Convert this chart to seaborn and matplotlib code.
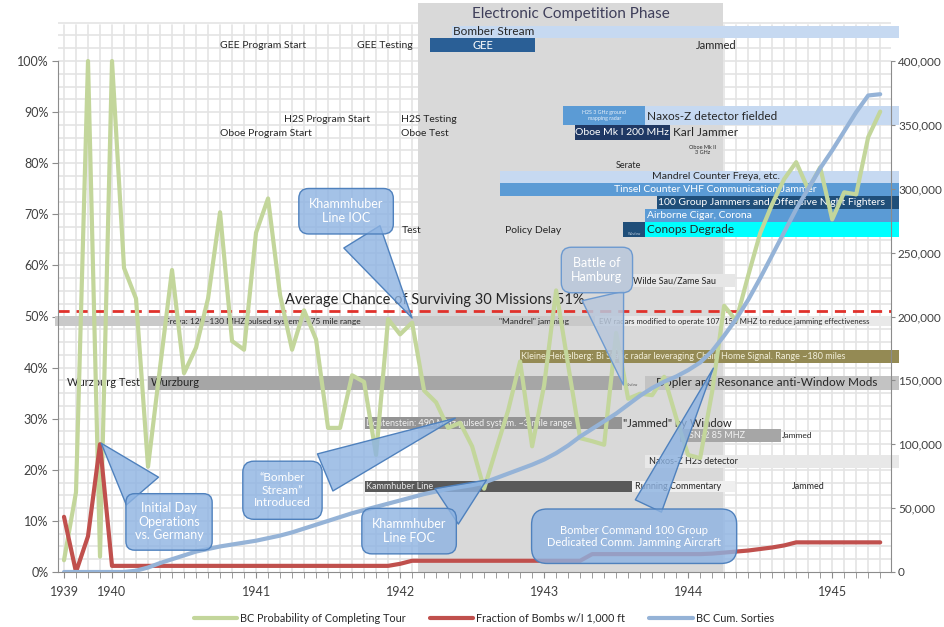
import numpy as np
import pandas as pd
import matplotlib
matplotlib.use("Agg")
import matplotlib.pyplot as plt
import seaborn as sns
from matplotlib.patches import Rectangle
from matplotlib.lines import Line2D
from matplotlib.ticker import FuncFormatter

# ---------------- data (monthly, Sep 1939 = month 0 ... May 1945 = month 68) ----------------
months = list(range(69))
tour_prob = [2.3, 15.6, 100, 3.0, 100, 59.5, 53.5, 20.6, 40.0, 59.1, 38.9, 43.9, 53.5, 70.4,
             45.2, 43.5, 66.4, 73.1, 54.2, 43.5, 51.2, 45.5, 28.2, 28.2, 38.5, 37.2, 22.9, 49.5,
             46.5, 48.8, 35.5, 33.2, 28.2, 29.2, 24.6, 16.3, 24.0, 31.6, 41.2, 24.6, 36.5, 55.1,
             40.5, 26.2, 25.6, 24.9, 46.8, 33.9, 34.9, 34.6, 38.2, 30.2, 22.9, 22.3, 35.3, 52.1,
             49.2, 58.0, 66.3, 72.0, 76.9, 80.2, 74.9, 79.2, 69.0, 74.3, 73.9, 85.1, 90.1]
bomb_fraction = [10.8, 0, 7.0, 25.0] + [1.2] * 24 + [1.6] + [2.2] * 15 + [3.5] * 10 + \
                [3.6, 3.8, 4.0, 4.2, 4.5, 4.8, 5.2, 5.8] + [5.8] * 7
cum_sorties = [0, 0, 0, 0, 0, 0, 1000, 3500, 7000, 10000, 13000, 16000, 18000, 20000,
               21500, 23000, 24500, 26500, 28500, 31000, 34000, 37000, 40000, 43000, 46000,
               48500, 51000, 53500, 56000, 58500, 61000, 63000, 65000, 66500, 68000, 70000,
               73500, 77000, 80500, 84000, 88000, 93000, 99000, 106000, 112000, 118000,
               124000, 131000, 138000, 144000, 149000, 153000, 158000, 164000, 173000,
               185000, 198000, 213000, 230000, 248000, 266000, 284000, 300000, 316000,
               330000, 345000, 360000, 373000, 374000]
year_ticks = [0, 4, 16, 28, 40, 52, 64]
year_labels = ["1939", "1940", "1941", "1942", "1943", "1944", "1945"]
avg_survival = 51
series_names = ["BC Probability of Completing Tour", "Fraction of Bombs w/I 1,000 ft", "BC Cum. Sorties"]

df = pd.DataFrame({"month": months, "tour": tour_prob, "bombs": bomb_fraction, "sorties": cum_sorties})

# ---------------- style ----------------
sns.set_style("white")
plt.rcParams["font.family"] = ["Lato", "DejaVu Sans"]

GREEN = "#c3d69b"
RED = "#c0504d"
BLUE = "#95b3d7"
LIGHTBLUE = "#c6d9f1"
MIDBLUE = "#5b9bd5"
DARKBLUE = "#1f4e79"
NAVY = "#1f3864"
TXT = "#262626"

fig = plt.figure(figsize=(9.45, 6.27), dpi=100)
ax = fig.add_axes([58 / 945, 1 - 572 / 627, 833 / 945, 569 / 627])
YTOP = 569 / 5.11
ax.set_xlim(-0.5, 68.9)
ax.set_ylim(0, YTOP)

# grid (up to 107%)
for m in months:
    ax.plot([m, m], [0, 107], color="#e4e4e4", lw=1.2, zorder=0.2)
for yv in np.arange(2.5, 107.6, 2.5):
    ax.plot([-0.5, 68.9], [yv, yv], color="#e4e4e4", lw=1.2, zorder=0.2)

# Electronic competition phase box
ax.add_patch(Rectangle((29.5, 0), 25.4, YTOP, fc="#d9d9d9", ec="none", zorder=0.6))
ax.text(42.2, 109.2, "Electronic Competition Phase", ha="center", va="center",
        fontsize=11, color="#3f3f5a", zorder=2)

def bar(x0, x1, y0, y1, color, z=1.5):
    ax.add_patch(Rectangle((x0, y0), x1 - x0, y1 - y0, fc=color, ec="none", zorder=z, clip_on=False))

def txt(x, y, s, fs=7.5, color=TXT, ha="left", **kw):
    ax.text(x, y, s, fontsize=fs, color=color, ha=ha, va="center", zorder=2, clip_on=False, **kw)

XR = 69.6
# top rows
bar(32.3, XR, 104.5, 106.8, LIGHTBLUE)
txt(32.4, 105.7, "Bomber Stream", 8.5)
bar(30.5, 39.25, 101.8, 104.5, "#2a5f96")
txt(34.9, 103.1, "GEE", 8, "white", ha="center")
txt(54.3, 103.1, "Jammed", 8, ha="center")
txt(13.0, 103.1, "GEE Program Start", 7.5)
txt(24.4, 103.1, "GEE Testing", 7.5)
txt(18.3, 88.6, "H2S Program Start", 7.5)
txt(28.1, 88.6, "H2S Testing", 7.5)
txt(13.0, 85.9, "Oboe Program Start", 7.5)
txt(28.1, 85.9, "Oboe Test", 7.5)

bar(41.6, 48.4, 87.5, 91.2, MIDBLUE)
txt(45.0, 89.4, "H2S 3 GHz ground\nmapping radar", 3.8, "#e8f0fa", ha="center", linespacing=1.3)
bar(48.4, XR, 87.5, 91.2, LIGHTBLUE)
txt(48.6, 89.2, "Naxos-Z detector fielded", 8.5)
bar(42.6, 50.5, 84.5, 87.5, NAVY)
txt(46.5, 86.0, "Oboe Mk I 200 MHz", 7.5, "white", ha="center")
txt(50.7, 86.0, "Karl Jammer", 8.5)
txt(53.2, 82.6, "Oboe Mk II\n3 GHz", 4, ha="center")
txt(47.0, 79.6, "Serate", 6.5, ha="center")

bar(36.3, XR, 76.1, 78.5, LIGHTBLUE)
txt(54.3, 77.3, "Mandrel Counter Freya, etc.", 7.5, ha="center")
bar(36.3, XR, 73.6, 76.1, MIDBLUE)
txt(54.3, 74.8, "Tinsel Counter VHF Communication Jammer", 7.5, "white", ha="center")
bar(49.4, XR, 71.0, 73.6, DARKBLUE)
txt(49.5, 72.3, "100 Group Jammers and Offensive Night Fighters", 7.5, "white")
bar(48.4, XR, 68.5, 71.0, MIDBLUE)
txt(48.6, 69.7, "Airborne Cigar, Corona", 7.5, "white")

txt(28.1, 66.9, "Test", 7.5)
txt(36.7, 66.9, "Policy Delay", 7.5)
bar(46.6, 48.4, 65.6, 68.5, DARKBLUE)
txt(47.5, 66.2, "Window", 2.5, "#c0d0e0", ha="center")
bar(48.4, XR, 65.6, 68.5, "#00ffff")
txt(48.6, 67.0, "Conops Degrade", 8.5)

bar(47.2, 55.9, 55.8, 58.3, "#e6e6e6")
txt(47.4, 57.0, "Wilde Sau/Zame Sau", 6.5)

txt(18.4, 53.2, "Average Chance of Surviving 30 Missions 51%", 10.5)
ax.axhline(avg_survival, color="#e0312b", lw=2, ls=(0, (4, 2.5)), zorder=2.5)

bar(-0.75, 44.25, 48.1, 50.1, "#c9c9c9")
bar(44.25, 68.9, 48.1, 50.1, "#e9e9e9")
txt(8.4, 49.1, "Freya: 120\u2013130 MHZ pulsed system. ~ 75 mile range", 6)
txt(36.2, 49.1, "\"Mandrel\" jamming", 6)
txt(44.6, 49.1, "EW radars modified to operate 107\u2013158 MHZ to reduce jamming effectiveness", 5.6)

bar(38.0, XR, 40.9, 43.4, "#948a54")
txt(38.1, 42.2, "Kleine Heidelberg: Bi Static radar leveraging Chain Home Signal. Range ~180 miles", 6.5, "#f2efd9")

txt(0.25, 37.0, "Wurzburg Test", 8)
bar(7.0, 46.5, 35.6, 38.4, "#a6a6a6")
txt(7.2, 37.0, "Wurzburg", 8)
txt(47.3, 36.6, "Window", 2.5, "#555555", ha="center")
bar(48.4, XR, 35.6, 38.4, "#c3c3c3")
txt(49.3, 37.0, "Dopler and Resonance anti-Window Mods", 8.5)

bar(25.1, 46.5, 28.0, 30.3, "#949494")
txt(25.2, 29.1, "Lichtenstein: 490 MHz pulsed system. ~3 mile range", 6.5, "#f2f2f2")
txt(46.6, 29.1, "\"Jammed\" by Window", 8)
bar(51.3, 59.7, 25.4, 28.0, "#a6a6a6")
txt(54.4, 26.7, "SN-2 85 MHZ", 6.5, "#f2f2f2", ha="center")
txt(59.8, 26.7, "Jammed", 6)
bar(48.4, XR, 20.4, 22.9, "#e8e8e8")
txt(48.7, 21.6, "Naxos-Z H2S detector", 6.5)
bar(25.1, 47.3, 15.7, 17.8, "#595959")
txt(25.2, 16.7, "Kammhuber Line", 6.5, "#e6e6e6")
bar(47.3, 55.9, 15.7, 17.8, "#efefef")
txt(47.6, 16.7, "Running Commentary", 6.5)
txt(62.0, 16.7, "Jammed", 6.5, ha="center")

# ---------------- series ----------------
sns.lineplot(data=df, x="month", y="tour", ax=ax, color=GREEN, lw=3, zorder=3)
sns.lineplot(data=df, x="month", y="bombs", ax=ax, color=RED, lw=3, zorder=3.1)
ax2 = ax.twinx()
ax2.set_ylim(0, 400000 * YTOP / 100)
sns.lineplot(data=df, x="month", y="sorties", ax=ax2, color=BLUE, lw=3, zorder=3)

# ---------------- axes styling ----------------
ax.set_xlabel("")
ax.set_ylabel("")
ax2.set_ylabel("")
ax.set_yticks(range(0, 101, 10))
ax.yaxis.set_major_formatter(FuncFormatter(lambda v, p: f"{int(v)}%"))
ax.set_xticks(year_ticks)
ax.set_xticklabels(year_labels)
ax.set_xticks(months, minor=True)
ax2.set_yticks(range(0, 400001, 50000))
ax2.yaxis.set_major_formatter(FuncFormatter(lambda v, p: f"{int(v):,}"))
for a in (ax, ax2):
    for s in a.spines.values():
        s.set_visible(False)
ax.spines["left"].set_visible(True)
ax.spines["left"].set_bounds(0, 100)
ax.spines["left"].set_color("#8c8c8c")
ax.spines["bottom"].set_visible(True)
ax.spines["bottom"].set_color("#8c8c8c")
ax2.spines["right"].set_visible(True)
ax2.spines["right"].set_bounds(0, 400000)
ax2.spines["right"].set_color("#8c8c8c")
ax.tick_params(axis="y", left=True, length=4, color="#8c8c8c", labelsize=9, labelcolor="#404040", pad=3)
ax.tick_params(axis="x", which="both", bottom=True, length=4, color="#8c8c8c", labelsize=9,
               labelcolor="#404040", pad=6)
ax2.tick_params(axis="y", right=True, length=3, color="#8c8c8c", labelsize=8.5, labelcolor="#404040", pad=2)
ax.set_zorder(1)
ax2.set_zorder(2)

# ---------------- callouts ----------------
def callout(text, tip, box, fc=(0.553, 0.702, 0.886, 0.8), ec="#4f81bd", fs=9, pad=0.8, tw=3.4, ls=1.15):
    ax2.annotate(text, xy=tip, xycoords=ax.transData, xytext=box, textcoords=ax.transData,
                 ha="center", va="center", fontsize=fs, color="white", linespacing=ls,
                 bbox=dict(boxstyle=f"round,pad={pad}", fc=fc, ec=ec, lw=1),
                 arrowprops=dict(arrowstyle=f"wedge,tail_width={tw},shrink_factor=0.5",
                                 fc=fc, ec=ec, lw=1, shrinkB=0),
                 zorder=5, annotation_clip=False)

callout("Khammhuber\nLine IOC", (29.0, 49.7), (23.5, 70.6))
callout("Initial Day\nOperations\nvs. Germany", (3.1, 25.2), (8.75, 9.8), pad=0.7)
callout("\u201cBomber\nStream\u201d\nIntroduced", (32.6, 30.1), (18.2, 16.0), fs=8.5, pad=0.95)
callout("Khammhuber\nLine FOC", (35.2, 18.0), (28.75, 8.0))
callout("Battle of\nHamburg", (46.6, 36.6), (44.4, 59.1), fc=(0.72, 0.78, 0.86, 0.85), ec="#6d9ad0")
callout("Bomber Command 100 Group\nDedicated Comm. Jamming Aircraft", (54.1, 39.9), (47.5, 7.0),
        fs=8, pad=1.4, tw=2.6)

# ---------------- legend ----------------
handles = [Line2D([], [], color=c, lw=3) for c in (GREEN, RED, BLUE)]
fig.legend(handles, series_names, loc="center", bbox_to_anchor=(0.512, 0.014), ncol=3,
           frameon=False, fontsize=7.8, handlelength=4, columnspacing=2.2, handletextpad=0.3)

fig.savefig("out.png", dpi=100)
